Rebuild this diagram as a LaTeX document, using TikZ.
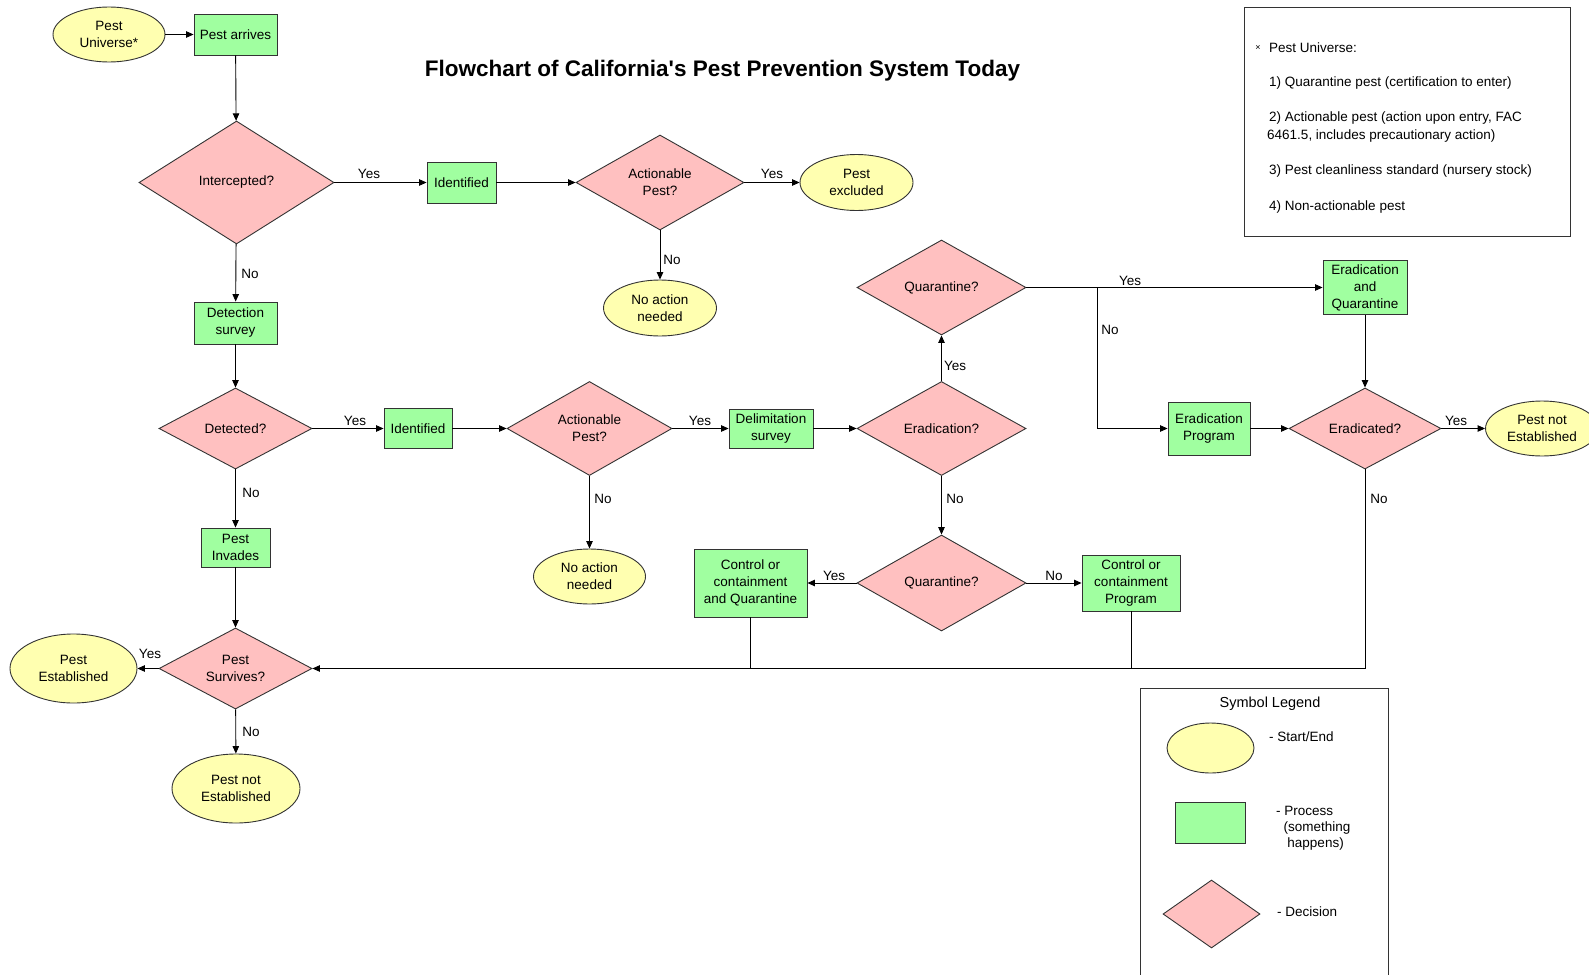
\documentclass[tikz,border=0pt]{standalone}
\usepackage{fontspec}
\setmainfont{Liberation Sans}
\newfontfamily\titlefont{Liberation Sans}
\usetikzlibrary{shapes.geometric,arrows.meta}
\definecolor{yel}{HTML}{FFFFB0}
\definecolor{grn}{HTML}{A0FFA0}
\definecolor{pnk}{HTML}{FFC0C0}
\definecolor{edgec}{HTML}{333333}
\begin{document}
\begin{tikzpicture}[x=1pt,y=-1pt,
  every node/.style={font=\fontsize{13.5}{17}\selectfont, inner sep=0pt, align=center},
  term/.style={ellipse, draw=edgec, fill=yel, line width=0.9pt},
  proc/.style={rectangle, draw=edgec, fill=grn, line width=0.9pt},
  dec/.style={diamond, draw=edgec, fill=pnk, line width=0.9pt, aspect=1.8},
  conn/.style={line width=0.9pt, -{Triangle[length=7.5pt,width=6.5pt]}},
  plainln/.style={line width=0.9pt},
  lab/.style={font=\fontsize{13.5}{16}\selectfont},
  notetxt/.style={font=\fontsize{13.5}{16}\selectfont, anchor=west, align=left},
  sz/.style 2 args={minimum width=#1pt, minimum height=#2pt}
]
\clip (0,0) rectangle (1589,974);
\fill[white] (0,0) rectangle (1589,974);

% title
\node[font=\titlefont\fontsize{22.5}{26}\selectfont\bfseries] (title) at (722.5,71) {Flowchart of California's Pest Prevention System Today};

% top row
\node[term, sz={112}{55}] (pu) at (109,34.5) {Pest\\Universe*};
\node[proc, sz={83}{41}] (arr) at (235.5,34.5) {Pest arrives};
\node[dec, sz={195}{123}] (icp) at (236.5,182.5) {Intercepted?};
\node[proc, sz={69}{41}] (id1) at (461.5,182.5) {Identified};
\node[dec, sz={168}{95}] (ac1) at (660,182.5) {Actionable\\Pest?};
\node[term, sz={113}{56}] (exc) at (856.5,182.5) {Pest\\excluded};
\node[term, sz={113}{56}] (na1) at (660,308) {No action\\needed};

% second row
\node[proc, sz={83}{42}] (det) at (235.5,323) {Detection\\survey};
\node[dec, sz={153}{81}] (dtd) at (235.5,428.5) {Detected?};
\node[proc, sz={68}{40}] (id2) at (418,428.5) {Identified};
\node[dec, sz={165}{94}] (ac2) at (589.5,428.5) {Actionable\\Pest?};
\node[term, sz={112}{55}] (na2) at (589.5,576.5) {No action\\needed};
\node[proc, sz={84}{39}] (del) at (771,428.5) {Delimitation\\survey};
\node[dec, sz={169}{94}] (era) at (941.5,428.5) {Eradication?};
\node[dec, sz={169}{95}] (qt) at (941.5,287.5) {Quarantine?};
\node[proc, sz={84}{54}] (eq) at (1365,287.5) {Eradication\\and\\Quarantine};
\node[proc, sz={82}{53}] (ep) at (1209,428.5) {Eradication\\Program};
\node[dec, sz={152}{81}] (edd) at (1365,428.5) {Eradicated?};
\node[term, sz={113}{55}] (pne2) at (1542,428.5) {Pest not\\Established};

% third row
\node[dec, sz={169}{96}] (qb) at (941.5,583) {Quarantine?};
\node[proc, sz={113}{68}] (cq) at (750.5,583) {Control or\\containment\\and Quarantine};
\node[proc, sz={98}{56}] (cp) at (1131,583) {Control or\\containment\\Program};
\node[proc, sz={69}{39}] (inv) at (235.5,547.5) {Pest\\Invades};
\node[dec, sz={153}{81}] (sur) at (235.5,668.5) {Pest\\Survives?};
\node[term, sz={127}{69}] (est) at (73.5,668.5) {Pest\\Established};
\node[term, sz={128}{69}] (pne1) at (236,788.5) {Pest not\\Established};

% connectors
\draw[conn] (pu) -- (arr);
\draw[conn] (arr) -- (icp);
\draw[conn] (icp) -- (id1);
\draw[conn] (id1) -- (ac1);
\draw[conn] (ac1) -- (exc);
\draw[conn] (ac1) -- (na1);
\draw[conn] (icp) -- (det);
\draw[conn] (det) -- (dtd);
\draw[conn] (dtd) -- (id2);
\draw[conn] (id2) -- (ac2);
\draw[conn] (ac2) -- (del);
\draw[conn] (ac2) -- (na2);
\draw[conn] (del) -- (era);
\draw[conn] (era) -- (qt);
\draw[conn] (qt.east) -- (eq.west);
\coordinate (br) at (1097,287.5);
\draw[conn] (br) |- (ep.west);
\draw[conn] (eq) -- (edd);
\draw[conn] (ep) -- (edd);
\draw[conn] (edd) -- (pne2);
\draw[conn] (edd.south) |- (sur.east);
\draw[conn] (era) -- (qb);
\draw[conn] (qb) -- (cq);
\draw[conn] (qb) -- (cp);
\draw[plainln] (cq.south) -- (cq.south |- sur.east);
\draw[plainln] (cp.south) -- (cp.south |- sur.east);
\draw[conn] (dtd) -- (inv);
\draw[conn] (inv) -- (sur);
\draw[conn] (sur) -- (est);
\draw[conn] (sur) -- (pne1);

% labels
\node[lab] (l1) at (369,174) {Yes};
\node[lab] (l2) at (250,274) {No};
\node[lab] (l3) at (772,174) {Yes};
\node[lab] (l4) at (672,260) {No};
\node[lab] (l5) at (355,421) {Yes};
\node[lab] (l6) at (251,492.5) {No};
\node[lab] (l7) at (700,421) {Yes};
\node[lab] (l8) at (603,499) {No};
\node[lab] (l9) at (955,366) {Yes};
\node[lab] (l10) at (955,499) {No};
\node[lab] (l11) at (1130,281) {Yes};
\node[lab] (l12) at (1110,330) {No};
\node[lab] (l13) at (1456,421) {Yes};
\node[lab] (l14) at (1379,499) {No};
\node[lab] (l15) at (834,576) {Yes};
\node[lab] (l16) at (1054,576) {No};
\node[lab] (l17) at (150,654) {Yes};
\node[lab] (l18) at (251,732) {No};

% note box
\draw[line width=0.9pt, draw=edgec] (1244,7) rectangle (1570,236);
\node[font=\fontsize{9}{9}\selectfont] (nx) at (1258,48) {×};
\node[notetxt] (n0) at (1269,48) {Pest Universe:};
\node[notetxt] (n1) at (1269,83) {1) Quarantine pest (certification to enter)};
\node[notetxt] (n2) at (1269,118.5) {2) Actionable pest (action upon entry, FAC};
\node[notetxt] (n2b) at (1267,136) {6461.5, includes precautionary action)};
\node[notetxt] (n3) at (1269,171) {3) Pest cleanliness standard (nursery stock)};
\node[notetxt] (n4) at (1269,207) {4) Non-actionable pest};

% legend
\draw[line width=0.9pt, draw=edgec] (1140,1000) -- (1140,688) -- (1388,688) -- (1388,1000);
\node[font=\fontsize{14.5}{17}\selectfont] (lgt) at (1270,704) {Symbol Legend};
\node[term, sz={87}{50}] (lge) at (1210.5,748) {};
\node[notetxt] (lget) at (1269,737) {- Start/End};
\node[proc, sz={70}{41}] (lgp) at (1210,822.5) {};
\node[notetxt] (lgpt) at (1276,828) {- Process\\\ \ (something\\\ \ \ happens)};
\node[dec, sz={97}{68}] (lgd) at (1211.5,914) {};
\node[notetxt] (lgdt) at (1277,912) {- Decision};
\end{tikzpicture}
\end{document}
